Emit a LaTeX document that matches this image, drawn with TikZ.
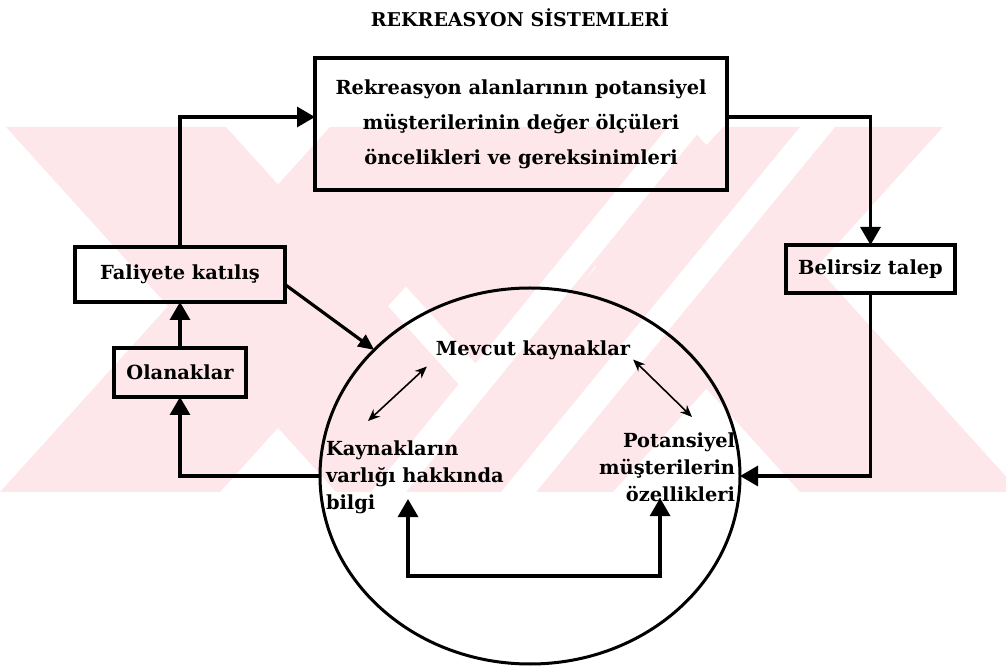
\documentclass[tikz,border=0pt]{standalone}
\usepackage{fontspec}
\setmainfont{DejaVu Serif}
\usepackage{tikz}
\usetikzlibrary{arrows.meta}
\usetikzlibrary{shapes.geometric}
\definecolor{wmpink}{RGB}{253,231,235}
\tikzstyle{plain}=[inner sep=0, outer sep=0, font=\bfseries\fontsize{9.7}{13.5}\selectfont]
\tikzstyle{box}=[draw, line width=2pt, inner sep=0, outer sep=0, align=center,
                 font=\bfseries\fontsize{9.7}{17.5}\selectfont]
\tikzstyle{flow}=[line width=1.6pt, -{Triangle[length=9pt, width=10pt]}]
\tikzstyle{link}=[line width=0.8pt, {Stealth[length=6pt, width=5pt]}-{Stealth[length=6pt, width=5pt]}]
\tikzstyle{rekreasyon}=[x=0.5pt, y=-0.5pt,
                        % Frame of the whole page.
                        execute at begin picture={\useasboundingbox (0,0) rectangle (1006,667);}]

\begin{document}
\begin{tikzpicture}[rekreasyon]
    % Watermark in the background.
    \begin{scope}
        \clip (0,127) rectangle (1006,492);
        \fill[wmpink] (6,127) -- (226,127) -- (556,492) -- (336,492) -- cycle;
        \fill[wmpink] (330,127) -- (550,127) -- (220,492) -- (0,492) -- cycle;
        \fill[wmpink] (470,127) -- (690,127) -- (1020,492) -- (800,492) -- cycle;
        \fill[wmpink] (723,127) -- (943,127) -- (613,492) -- (393,492) -- cycle;
        \fill[wmpink] (510,160) -- (600,260) -- (500,390) -- (400,280) -- cycle;
        \fill[white] (668,127) -- (703,127) -- (406,492) -- (371,492) -- cycle;
        \fill[white] (800,127) -- (835,127) -- (536,492) -- (501,492) -- cycle;
    \end{scope}

    \node[plain, font=\bfseries\fontsize{9.5}{11}\selectfont] (title) at (520,18) {REKREASYON SİSTEMLERİ};

    \node[box, minimum width=206pt, minimum height=66pt] (need) at (521,124)
        {Rekreasyon alanlarının potansiyel\\müşterilerinin değer ölçüleri\\öncelikleri ve gereksinimleri};
    \node[box, minimum width=105pt, minimum height=27.5pt] (fal) at (180,274.5) {Faliyete katılış};
    \node[box, minimum width=66pt, minimum height=24.5pt] (olan) at (180,372.5) {Olanaklar};
    \node[box, minimum width=84.5pt, minimum height=24pt] (bel) at (870.5,269) {Belirsiz talep};

    \node[ellipse, draw, line width=1.5pt, inner sep=0, outer sep=0,
          minimum width=210pt, minimum height=188pt] (circ) at (530,476) {};
    \node[plain] (mev) at (533,350) {Mevcut kaynaklar};
    \node[plain, anchor=north west, align=left] (kay) at (326,441) {Kaynakların\\varlığı hakkında\\bilgi};
    \node[plain, anchor=north east, align=right] (pot) at (735,433) {Potansiyel\\müşterilerin\\özellikleri};

    \draw[flow] (fal.north) |- ([yshift=3.5pt]need.west);
    \draw[flow] ([yshift=3.5pt]need.east) -| (bel.north);
    \draw[flow] (bel.south) |- (circ.east);
    \draw[flow] (circ.west) -| (olan.south);
    \draw[flow] (olan.north) -- (fal.south);
    \draw[flow, -{Triangle[length=8pt, width=7pt]}] ([yshift=-5pt]fal.east) -- (circ.141);

    \draw[link] ([xshift=-4.5pt, yshift=-3.5pt]mev.south west) -- ([xshift=21pt, yshift=10pt]kay.north west);
    \draw[link] ([xshift=1.5pt]mev.south east) -- ([xshift=-21.5pt, yshift=8pt]pot.north east);

    \coordinate (kaytip) at ([xshift=41pt, yshift=7.5pt]kay.south west);
    \coordinate (pottip) at ([xshift=-3.5pt, yshift=2pt]pot.south);
    \draw[flow, {Triangle[length=9pt, width=10pt]}-{Triangle[length=9pt, width=10pt]}]
        (kaytip) -- ++(0,77) -| (pottip);
\end{tikzpicture}
\end{document}
